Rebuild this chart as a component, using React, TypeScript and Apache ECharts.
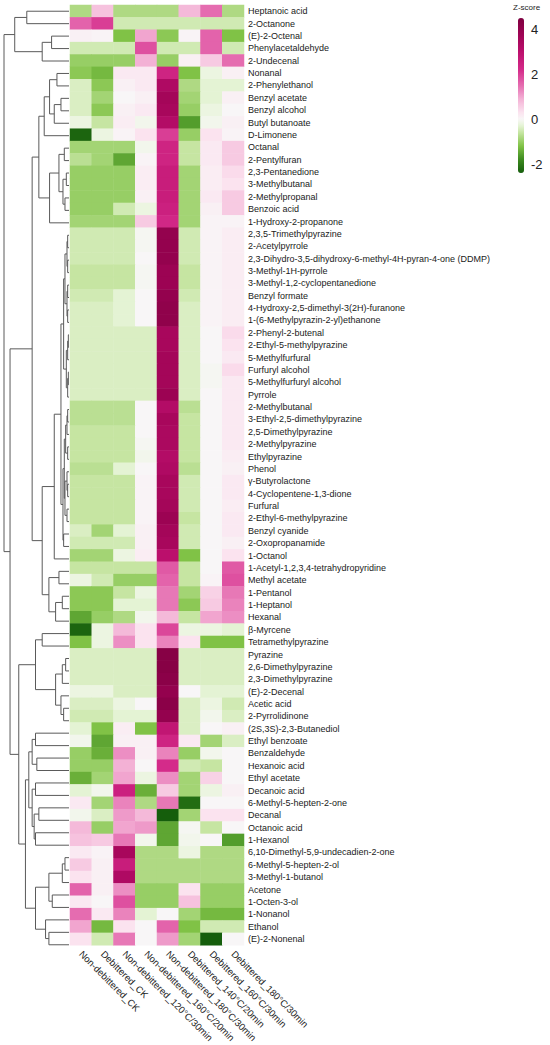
import React, { useEffect, useRef } from "react";
import * as echarts from "echarts";

const columns = [
  "Non-debittered_CK",
  "Debittered_CK",
  "Non-debittered_120°C/30min",
  "Non-debittered_160°C/20min",
  "Non-debittered_180°C/30min",
  "Debittered_140°C/20min",
  "Debittered_160°C/30min",
  "Debittered_180°C/30min",
];

const compounds = [
  "Heptanoic acid", "2-Octanone", "(E)-2-Octenal", "Phenylacetaldehyde", "2-Undecenal",
  "Nonanal", "2-Phenylethanol", "Benzyl acetate", "Benzyl alcohol", "Butyl butanoate",
  "D-Limonene", "Octanal", "2-Pentylfuran", "2,3-Pentanedione", "3-Methylbutanal",
  "2-Methylpropanal", "Benzoic acid", "1-Hydroxy-2-propanone", "2,3,5-Trimethylpyrazine", "2-Acetylpyrrole",
  "2,3-Dihydro-3,5-dihydroxy-6-methyl-4H-pyran-4-one (DDMP)", "3-Methyl-1H-pyrrole", "3-Methyl-1,2-cyclopentanedione", "Benzyl formate", "4-Hydroxy-2,5-dimethyl-3(2H)-furanone",
  "1-(6-Methylpyrazin-2-yl)ethanone", "2-Phenyl-2-butenal", "2-Ethyl-5-methylpyrazine", "5-Methylfurfural", "Furfuryl alcohol",
  "5-Methylfurfuryl alcohol", "Pyrrole", "2-Methylbutanal", "3-Ethyl-2,5-dimethylpyrazine", "2,5-Dimethylpyrazine",
  "2-Methylpyrazine", "Ethylpyrazine", "Phenol", "γ-Butyrolactone", "4-Cyclopentene-1,3-dione",
  "Furfural", "2-Ethyl-6-methylpyrazine", "Benzyl cyanide", "2-Oxopropanamide", "1-Octanol",
  "1-Acetyl-1,2,3,4-tetrahydropyridine", "Methyl acetate", "1-Pentanol", "1-Heptanol", "Hexanal",
  "β-Myrcene", "Tetramethylpyrazine", "Pyrazine", "2,6-Dimethylpyrazine", "2,3-Dimethylpyrazine",
  "(E)-2-Decenal", "Acetic acid", "2-Pyrrolidinone", "(2S,3S)-2,3-Butanediol", "Ethyl benzoate",
  "Benzaldehyde", "Hexanoic acid", "Ethyl acetate", "Decanoic acid", "6-Methyl-5-hepten-2-one",
  "Decanal", "Octanoic acid", "1-Hexanol", "6,10-Dimethyl-5,9-undecadien-2-one", "6-Methyl-5-hepten-2-ol",
  "3-Methyl-1-butanol", "Acetone", "1-Octen-3-ol", "1-Nonanol", "Ethanol",
  "(E)-2-Nonenal",
];

// z-scores, one row per compound, columns in the order of `columns`
const zScores = [
  [-0.8, 0.7, -0.8, -0.8, -0.8, 0.8, 1.5, -0.8],
  [1.6, 2.0, -0.5, -0.5, -0.5, -0.5, -0.5, -0.5],
  [0.1, 0.05, -1.2, 1.0, -1.1, 0.05, 1.6, -1.2],
  [-0.5, -0.5, -0.5, 1.8, -0.5, -0.5, 1.6, -0.5],
  [-1.0, -1.0, -1.0, 0.9, -1.0, 0.1, 0.6, 1.5],
  [-1.1, -1.3, 0.2, 0.2, 2.4, -1.2, -0.2, 0.1],
  [-0.4, -1.1, 0.1, 0.2, 3.3, -0.8, -0.3, -0.3],
  [-0.4, -0.9, 0.0, 0.1, 3.6, -0.9, -0.3, 0.1],
  [-0.4, -1.1, 0.1, 0.2, 3.5, -1.0, -0.2, 0.0],
  [-0.2, -0.6, 0.15, -0.1, 3.2, -1.6, -0.1, 0.1],
  [-2.3, -0.2, 0.05, 0.3, 2.0, -1.0, 0.3, 0.05],
  [-0.9, -0.9, -0.9, -0.1, 2.4, -0.6, 0.2, 0.6],
  [-0.7, -0.9, -1.5, 0.05, 2.4, -0.6, 0.2, 0.6],
  [-1.0, -1.0, -1.0, 0.15, 2.6, -0.9, 0.15, 0.4],
  [-1.0, -1.0, -1.0, 0.15, 2.6, -0.9, 0.15, 0.3],
  [-1.0, -1.0, -1.0, 0.1, 2.6, -0.9, 0.2, 0.6],
  [-1.0, -1.0, -0.5, -0.2, 2.5, -0.9, 0.1, 0.6],
  [-0.9, -0.9, -0.9, 0.6, 2.3, -0.9, 0.05, 0.05],
  [-0.5, -0.5, -0.5, -0.05, 4.0, -0.5, 0.05, 0.15],
  [-0.5, -0.5, -0.5, -0.05, 4.0, -0.5, 0.05, 0.15],
  [-0.5, -0.5, -0.5, 0.0, 4.0, -0.5, 0.05, 0.15],
  [-0.6, -0.6, -0.6, -0.05, 3.8, -0.6, 0.05, 0.15],
  [-0.6, -0.6, -0.6, -0.05, 3.8, -0.6, 0.05, 0.15],
  [-0.5, -0.5, -0.3, 0.0, 4.0, -0.5, 0.05, 0.15],
  [-0.4, -0.4, -0.3, 0.0, 4.1, -0.4, 0.05, 0.15],
  [-0.4, -0.4, -0.3, 0.0, 4.1, -0.4, 0.05, 0.15],
  [-0.4, -0.4, -0.4, -0.4, 3.5, -0.4, 0.0, 0.4],
  [-0.4, -0.4, -0.4, -0.4, 3.5, -0.4, 0.0, 0.3],
  [-0.4, -0.4, -0.4, -0.4, 3.6, -0.4, 0.0, 0.2],
  [-0.4, -0.4, -0.4, -0.4, 3.6, -0.4, -0.05, 0.4],
  [-0.4, -0.4, -0.4, -0.4, 3.6, -0.4, -0.05, 0.2],
  [-0.4, -0.4, -0.4, -0.4, 3.8, -0.4, 0.0, 0.2],
  [-0.7, -0.7, -0.7, 0.0, 3.2, -0.7, 0.0, 0.2],
  [-0.7, -0.7, -0.7, 0.0, 3.5, -0.6, 0.0, 0.2],
  [-0.6, -0.6, -0.6, 0.0, 3.4, -0.6, 0.0, 0.2],
  [-0.6, -0.6, -0.6, -0.05, 3.4, -0.6, 0.0, 0.2],
  [-0.6, -0.6, -0.6, -0.1, 3.2, -0.6, 0.0, 0.15],
  [-0.7, -0.7, -0.3, 0.0, 3.3, -0.7, 0.0, 0.1],
  [-0.6, -0.6, -0.6, 0.05, 3.5, -0.5, 0.0, 0.2],
  [-0.6, -0.6, -0.6, 0.05, 3.5, -0.5, 0.0, 0.2],
  [-0.6, -0.6, -0.6, 0.05, 3.6, -0.5, 0.0, 0.15],
  [-0.6, -0.6, -0.6, 0.05, 3.8, -0.6, 0.0, 0.2],
  [-0.4, -0.9, -0.3, 0.1, 3.6, -0.5, 0.0, 0.2],
  [-0.5, -0.5, -0.5, 0.1, 3.5, -0.5, 0.0, 0.1],
  [-0.9, -0.9, -0.2, 0.15, 3.0, -1.2, 0.0, 0.3],
  [-0.6, -0.6, -0.6, -0.6, 1.7, -0.6, 0.0, 1.7],
  [-0.2, -0.5, -1.0, -1.0, 1.6, -0.6, 0.05, 1.8],
  [-1.1, -1.1, -0.6, -0.2, 1.4, -0.9, 0.5, 1.4],
  [-1.1, -1.1, -0.3, -0.3, 1.4, -1.1, 0.6, 1.3],
  [-1.5, -1.0, -0.8, -0.1, 0.8, -0.6, 1.0, 1.2],
  [-2.3, -0.2, 0.8, 0.3, 1.9, -0.2, -0.2, -0.3],
  [-1.2, -0.2, 1.2, 0.3, 1.3, 0.3, -1.2, -1.2],
  [-0.4, -0.4, -0.4, -0.4, 4.3, -0.4, -0.4, -0.4],
  [-0.4, -0.4, -0.4, -0.4, 4.3, -0.4, -0.4, -0.4],
  [-0.4, -0.4, -0.4, -0.4, 4.2, -0.4, -0.4, -0.4],
  [-0.2, -0.2, -0.4, -0.4, 4.0, 0.0, -0.3, -0.3],
  [-0.4, -0.4, -0.2, 0.0, 4.2, -0.4, -0.2, -0.5],
  [-0.5, -0.5, -0.3, -0.3, 4.0, -0.4, -0.1, -0.4],
  [-0.3, -1.2, 0.15, -1.2, 2.8, -0.4, 0.0, 0.1],
  [-0.1, -1.5, 0.1, 0.1, 2.4, 0.2, -0.9, -0.4],
  [-1.0, -1.4, 1.2, 0.1, 1.3, -1.0, -0.1, 0.0],
  [-1.0, -1.0, 0.9, 0.0, 2.2, -0.5, -0.6, 0.0],
  [-1.4, -0.9, 1.0, -0.2, 1.2, -0.9, 0.5, 0.0],
  [-0.3, -0.1, 2.5, -1.4, 0.6, -0.9, -0.2, 0.1],
  [0.2, -0.9, 1.3, -0.8, 1.4, -2.2, 0.0, 0.0],
  [-0.1, -0.4, 1.1, 0.8, -2.4, -0.9, 0.3, 0.3],
  [0.8, -1.0, 1.0, 1.1, -1.5, -0.05, -0.6, 0.0],
  [0.7, 0.6, 1.4, -0.1, -1.5, -0.1, 0.0, -1.6],
  [0.2, 0.05, 3.5, -0.8, -0.8, -0.2, -0.8, -0.8],
  [0.6, 0.1, 2.6, -0.8, -0.8, -0.8, -0.8, -0.8],
  [0.3, 0.1, 3.3, -0.8, -0.8, -0.8, -0.8, -0.8],
  [1.6, 0.1, 1.2, -1.0, -1.0, 0.3, -1.0, -1.0],
  [0.2, 0.0, 1.8, -1.0, -1.0, 0.7, -1.0, -1.0],
  [1.5, 0.2, 1.3, -0.3, 0.0, -0.9, -1.3, -1.3],
  [1.0, -1.3, 0.3, 0.0, 1.6, -1.2, -0.5, -0.5],
  [0.3, -0.5, 1.4, 0.0, 1.1, -0.9, -2.4, 0.0],
];

// Row dendrogram: [height, left, right]; leaves are row indices
const rowTree: any = [0.97,
  [0.81, [0.63, 0, 1], [0.40, [0.26, 2, 3], 4]],
  [0.88,
    [0.55,
      [0.45,
        [0.37, [0.29, [0.18, 5, 6], [0.22, [0.12, 7, 8], 9]], 10],
        [0.29, [0.15, [0.07, 11, 12], [0.09, [0.04, 13, 14], [0.06, 15, 16]]], 17]],
      [0.40,
        [0.22,
          [0.12,
            [0.08,
              [0.06, [0.03, [0.02, 18, 19], [0.02, 20, 21]], [0.03, [0.02, 22, 23], [0.02, 24, 25]]],
              [0.04, [0.02, [0.01, 26, 27], 28], [0.02, [0.01, 29, 30], 31]]],
            [0.09,
              [0.07, [0.05, [0.03, [0.02, 32, 33], 34], [0.02, 35, 36]], [0.06, [0.03, 37, [0.02, 38, 39]], [0.03, 40, 41]]],
              [0.08, 42, 43]]],
          44],
        [0.3, [0.15, 45, 46], [0.2, [0.1, 47, 48], 49]]]],
    [0.75,
      [0.5, [0.4, 50, 51], [0.2, [0.1, [0.05, 52, 53], 54], [0.12, 55, [0.08, 56, 57]]]],
      [0.65,
        [0.6, [0.55, [0.5, 58, 59], [0.48, 60, 61]], [0.55, [0.5, 62, 63], [0.52, [0.45, 64, 65], [0.5, 66, 67]]]],
        [0.5, [0.3, [0.1, [0.06, 68, 69], 70], [0.25, 71, 72]], [0.35, 73, [0.3, 74, 75]]]]]]];

const zMin = -2.4;
const zMax = 4.5;
const colorbarTicks = [-2, 0, 2, 4];

const colorAnchors: [number, string][] = [
  [-2.4, "#155e0c"],
  [-1.8, "#3d8a1f"],
  [-1.2, "#80c246"],
  [-0.6, "#c6e5a2"],
  [-0.25, "#e9f5dc"],
  [0, "#f8f6f7"],
  [0.3, "#fbe3ef"],
  [0.9, "#f3b1d5"],
  [1.5, "#e56cb0"],
  [2.2, "#d42b8a"],
  [3.0, "#bb0f6c"],
  [3.8, "#9c0353"],
  [4.5, "#7f0040"],
];

function hexToRgb(h: string) {
  const n = parseInt(h.slice(1), 16);
  return [(n >> 16) & 255, (n >> 8) & 255, n & 255];
}
function colorAt(v: number) {
  for (let i = 0; i < colorAnchors.length - 1; i++) {
    const [v0, c0] = colorAnchors[i];
    const [v1, c1] = colorAnchors[i + 1];
    if (v <= v1 || i === colorAnchors.length - 2) {
      const t = Math.max(0, Math.min(1, (v - v0) / (v1 - v0)));
      const a = hexToRgb(c0), b = hexToRgb(c1);
      const m = a.map((x, k) => Math.round(x + (b[k] - x) * t));
      return `rgb(${m[0]},${m[1]},${m[2]})`;
    }
  }
  return colorAnchors[0][1];
}
function palette(steps: number) {
  const out: string[] = [];
  for (let i = 0; i <= steps; i++) out.push(colorAt(zMin + ((zMax - zMin) * i) / steps));
  return out;
}

function dendroLines(tree: any) {
  const lines: any[] = [];
  const walk = (node: any): [number, number] => {
    if (typeof node === "number") return [0, node];
    const [h, a, b] = node;
    const [ha, ya] = walk(a);
    const [hb, yb] = walk(b);
    lines.push({ coords: [[ha, ya], [h, ya], [h, yb], [hb, yb]] });
    return [h, (ya + yb) / 2];
  };
  walk(tree);
  return lines;
}

const FONT = "'Liberation Sans', Arial, sans-serif";

export default function App() {
  const ref = useRef<HTMLDivElement>(null);
  useEffect(() => {
    document.body.style.margin = "0";
    const chart = echarts.init(ref.current!, undefined, { renderer: "svg" });
    const heatData: any[] = [];
    zScores.forEach((row, r) => row.forEach((v, c) => heatData.push([c, r, v])));
    const nRows = compounds.length;
    chart.setOption({
      animation: false,
      backgroundColor: "#ffffff",
      textStyle: { fontFamily: FONT },
      grid: [
        { left: 70, top: 5, width: 174, height: 946 },
        { left: 2, top: 5, width: 67, height: 946 },
        { left: 518, top: 18, width: 6, height: 155 },
      ],
      xAxis: [
        {
          gridIndex: 0, type: "category", data: columns, position: "bottom",
          axisLine: { show: false }, axisTick: { show: false },
          axisLabel: { rotate: -45, interval: 0, fontSize: 9.5, color: "#222", margin: 7, fontFamily: FONT },
        },
        { gridIndex: 1, type: "value", min: 0, max: 1, inverse: true, show: false },
        { gridIndex: 2, type: "value", show: false },
      ],
      yAxis: [
        {
          gridIndex: 0, type: "category", data: compounds, inverse: true, position: "right",
          axisLine: { show: false }, axisTick: { show: false },
          axisLabel: { interval: 0, fontSize: 9, color: "#1a1a1a", margin: 4, fontFamily: FONT },
        },
        { gridIndex: 1, type: "value", min: -0.5, max: nRows - 0.5, inverse: true, show: false },
        {
          gridIndex: 2, type: "value", min: zMin, max: zMax, position: "right",
          axisLine: { show: false }, splitLine: { show: false },
          axisTick: { show: true, inside: true, length: 2, lineStyle: { color: "#fff" }, customValues: colorbarTicks },
          axisLabel: { fontSize: 13, color: "#222", margin: 7, customValues: colorbarTicks, fontFamily: FONT },
        },
      ],
      visualMap: {
        type: "continuous", seriesIndex: 0, min: zMin, max: zMax,
        left: 518, top: 18, itemWidth: 6, itemHeight: 155, padding: 0,
        calculable: false, text: ["", ""], showLabel: false,
        inRange: { color: palette(69) },
      },
      graphic: [
        { type: "text", left: 513, top: 3, style: { text: "Z-score", fontSize: 8, fill: "#222", fontFamily: FONT } },
      ],
      series: [
        {
          type: "heatmap", xAxisIndex: 0, yAxisIndex: 0, data: heatData,
          itemStyle: { borderWidth: 0 }, emphasis: { disabled: true },
        },
        {
          type: "lines", coordinateSystem: "cartesian2d", xAxisIndex: 1, yAxisIndex: 1,
          polyline: true, data: dendroLines(rowTree),
          lineStyle: { color: "#5a5a5a", width: 1, opacity: 1 }, silent: true,
        },
      ],
    });
    return () => chart.dispose();
  }, []);
  return <div ref={ref} style={{ width: 550, height: 1045 }} />;
}
